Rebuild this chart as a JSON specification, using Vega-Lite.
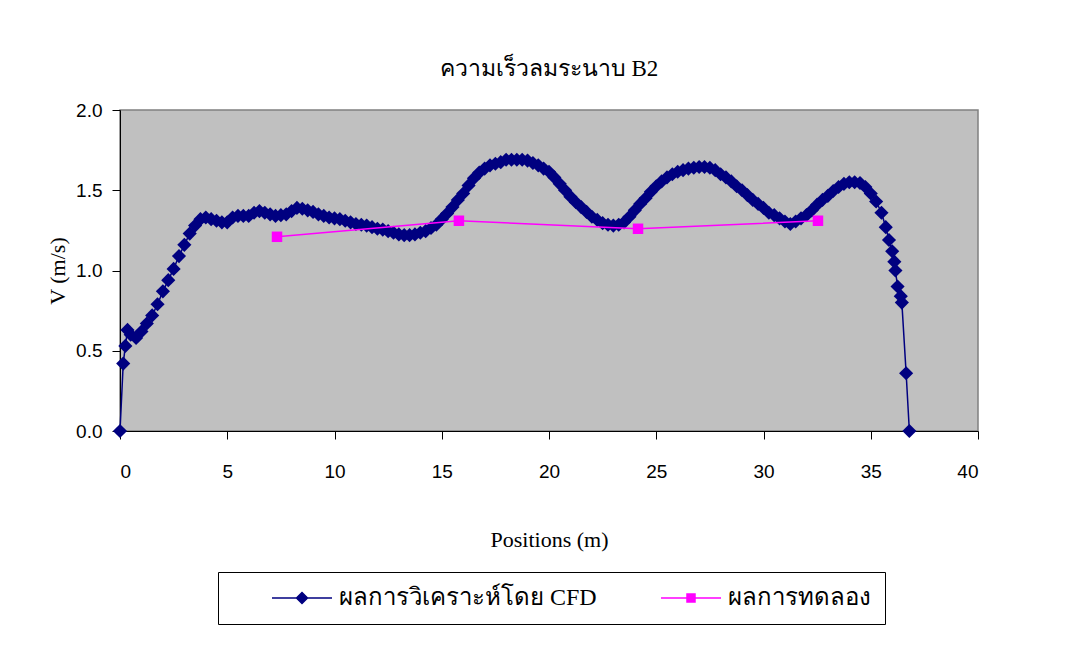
{
"$schema": "https://vega.github.io/schema/vega-lite/v6.json",
"width": 858, "height": 321,
"autosize": "none",
"padding": {"left": 120, "top": 110, "right": 111, "bottom": 217},
"background": "white",
"title": {"text": "ความเร็วลมระนาบ B2", "font": "Liberation Serif", "fontSize": 23, "fontWeight": "normal", "color": "black", "offset": 20, "anchor": "middle"},
"config": {
  "view": {"fill": "#C0C0C0", "stroke": "#808080", "strokeWidth": 1.5},
  "axis": {"grid": false, "domainColor": "black", "tickColor": "black", "tickSize": 8, "labelColor": "black", "labelFont": "Liberation Sans", "labelFontSize": 19, "titleColor": "black", "titleFont": "Liberation Serif", "titleFontSize": 22, "titleFontWeight": "normal"}
},
"datasets": {
  "cfd": [
    {"x":0,"v":0},{"x":0.15,"v":0.42},{"x":0.25,"v":0.53},{"x":0.35,"v":0.63},{"x":0.5,"v":0.6},{"x":0.75,"v":0.58},
    {"x":1,"v":0.62},{"x":1.25,"v":0.67},{"x":1.5,"v":0.72},{"x":1.75,"v":0.79},{"x":2,"v":0.87},{"x":2.25,"v":0.94},
    {"x":2.5,"v":1.01},{"x":2.75,"v":1.09},{"x":3,"v":1.16},{"x":3.25,"v":1.23},{"x":3.5,"v":1.28},{"x":3.75,"v":1.32},
    {"x":4,"v":1.33},{"x":4.25,"v":1.32},{"x":4.5,"v":1.31},{"x":4.75,"v":1.3},{"x":5,"v":1.3},{"x":5.25,"v":1.33},
    {"x":5.5,"v":1.34},{"x":5.75,"v":1.34},{"x":6,"v":1.34},{"x":6.25,"v":1.36},{"x":6.5,"v":1.37},{"x":6.75,"v":1.36},
    {"x":7,"v":1.35},{"x":7.25,"v":1.34},{"x":7.5,"v":1.345},{"x":7.75,"v":1.35},{"x":8,"v":1.37},{"x":8.25,"v":1.39},
    {"x":8.5,"v":1.385},{"x":8.75,"v":1.375},{"x":9,"v":1.365},{"x":9.25,"v":1.35},{"x":9.5,"v":1.34},{"x":9.75,"v":1.33},
    {"x":10,"v":1.325},{"x":10.25,"v":1.32},{"x":10.5,"v":1.31},{"x":10.75,"v":1.3},{"x":11,"v":1.29},{"x":11.25,"v":1.285},
    {"x":11.5,"v":1.28},{"x":11.75,"v":1.27},{"x":12,"v":1.26},{"x":12.25,"v":1.255},{"x":12.5,"v":1.245},{"x":12.75,"v":1.235},
    {"x":13,"v":1.225},{"x":13.25,"v":1.22},{"x":13.5,"v":1.22},{"x":13.75,"v":1.225},{"x":14,"v":1.235},{"x":14.25,"v":1.245},
    {"x":14.5,"v":1.265},{"x":14.75,"v":1.285},{"x":15,"v":1.32},{"x":15.25,"v":1.355},{"x":15.5,"v":1.395},{"x":15.75,"v":1.44},
    {"x":16,"v":1.48},{"x":16.25,"v":1.53},{"x":16.5,"v":1.575},{"x":16.75,"v":1.61},{"x":17,"v":1.635},{"x":17.25,"v":1.655},
    {"x":17.5,"v":1.665},{"x":17.75,"v":1.675},{"x":18,"v":1.69},{"x":18.25,"v":1.69},{"x":18.5,"v":1.69},{"x":18.75,"v":1.69},
    {"x":19,"v":1.685},{"x":19.25,"v":1.67},{"x":19.5,"v":1.655},{"x":19.75,"v":1.635},{"x":20,"v":1.615},{"x":20.25,"v":1.58},
    {"x":20.5,"v":1.54},{"x":20.75,"v":1.5},{"x":21,"v":1.46},{"x":21.25,"v":1.425},{"x":21.5,"v":1.395},{"x":21.75,"v":1.365},
    {"x":22,"v":1.335},{"x":22.25,"v":1.315},{"x":22.5,"v":1.295},{"x":22.75,"v":1.285},{"x":23,"v":1.28},{"x":23.25,"v":1.285},
    {"x":23.5,"v":1.3},{"x":23.75,"v":1.335},{"x":24,"v":1.375},{"x":24.25,"v":1.415},{"x":24.5,"v":1.45},{"x":24.75,"v":1.49},
    {"x":25,"v":1.525},{"x":25.25,"v":1.555},{"x":25.5,"v":1.58},{"x":25.75,"v":1.6},{"x":26,"v":1.615},{"x":26.25,"v":1.625},
    {"x":26.5,"v":1.635},{"x":26.75,"v":1.64},{"x":27,"v":1.645},{"x":27.25,"v":1.645},{"x":27.5,"v":1.64},{"x":27.75,"v":1.625},
    {"x":28,"v":1.6},{"x":28.25,"v":1.58},{"x":28.5,"v":1.555},{"x":28.75,"v":1.525},{"x":29,"v":1.5},{"x":29.25,"v":1.47},
    {"x":29.5,"v":1.44},{"x":29.75,"v":1.415},{"x":30,"v":1.39},{"x":30.25,"v":1.36},{"x":30.5,"v":1.345},{"x":30.75,"v":1.325},
    {"x":31,"v":1.305},{"x":31.25,"v":1.29},{"x":31.5,"v":1.305},{"x":31.75,"v":1.325},{"x":32,"v":1.345},{"x":32.25,"v":1.375},
    {"x":32.5,"v":1.41},{"x":32.75,"v":1.44},{"x":33,"v":1.465},{"x":33.25,"v":1.495},{"x":33.5,"v":1.52},{"x":33.75,"v":1.54},
    {"x":34,"v":1.55},{"x":34.25,"v":1.55},{"x":34.5,"v":1.545},{"x":34.75,"v":1.52},{"x":35,"v":1.48},{"x":35.25,"v":1.43},
    {"x":35.5,"v":1.36},{"x":35.7,"v":1.27},{"x":35.85,"v":1.19},{"x":36,"v":1.12},{"x":36.1,"v":1.055},{"x":36.15,"v":1},
    {"x":36.25,"v":0.9},{"x":36.4,"v":0.84},{"x":36.45,"v":0.8},{"x":36.65,"v":0.36},{"x":36.8,"v":0}
  ],
  "exp": [
    {"x":7.32,"v":1.21},{"x":15.8,"v":1.31},{"x":24.15,"v":1.26},{"x":32.54,"v":1.31}
  ]
},
"encoding": {
  "x": {"field": "x", "type": "quantitative", "scale": {"domain": [0, 40], "nice": false},
        "axis": {"values": [0,5,10,15,20,25,30,35,40], "format": "d", "labelPadding": 23, "title": "Positions (m)", "titlePadding": 48}},
  "y": {"field": "v", "type": "quantitative", "scale": {"domain": [0, 2], "nice": false},
        "axis": {"values": [0,0.5,1,1.5,2], "format": ".1f", "labelPadding": 10, "title": "V (m/s)", "titlePadding": 6}},
  "color": {"scale": {"domain": ["ผลการวิเคราะห์โดย CFD", "ผลการทดลอง"], "range": ["#000080", "#FF00FF"]},
    "legend": {"orient": "none", "legendX": 98, "legendY": 462, "direction": "horizontal", "title": null,
      "strokeColor": "black", "fillColor": "white", "padding": 14, "labelFont": "Liberation Serif", "labelFontSize": 24,
      "labelColor": "black", "labelOffset": 83, "columnPadding": 24, "symbolSize": 400, "labelLimit": 400,
      "encode": {"symbols": {"update": {
        "shape": {"signal": "datum.value === 'ผลการทดลอง' ? 'M2.8,0H8.8M5.4,-0.4H6.2V0.4H5.4Z' : 'M2.8,0H8.8M5.8,-0.55L6.35,0L5.8,0.55L5.25,0Z'"},
        "fill": {"signal": "datum.value === 'ผลการทดลอง' ? '#FF00FF' : '#000080'"},
        "stroke": {"signal": "datum.value === 'ผลการทดลอง' ? '#FF00FF' : '#000080'"},
        "strokeWidth": {"value": 1.5}, "opacity": {"value": 1}, "size": {"value": 400}}}}}}
},
"layer": [
  {"data": {"name": "cfd"}, "mark": {"type": "line", "strokeWidth": 1.5, "clip": false}, "encoding": {"color": {"datum": "ผลการวิเคราะห์โดย CFD"}}},
  {"data": {"name": "cfd"}, "mark": {"type": "point", "shape": "diamond", "filled": true, "size": 200, "opacity": 1, "clip": false}, "encoding": {"color": {"datum": "ผลการวิเคราะห์โดย CFD"}}},
  {"data": {"name": "exp"}, "mark": {"type": "line", "strokeWidth": 1.5}, "encoding": {"color": {"datum": "ผลการทดลอง"}}},
  {"data": {"name": "exp"}, "mark": {"type": "point", "shape": "square", "filled": true, "size": 110, "opacity": 1}, "encoding": {"color": {"datum": "ผลการทดลอง"}}}
]
}
